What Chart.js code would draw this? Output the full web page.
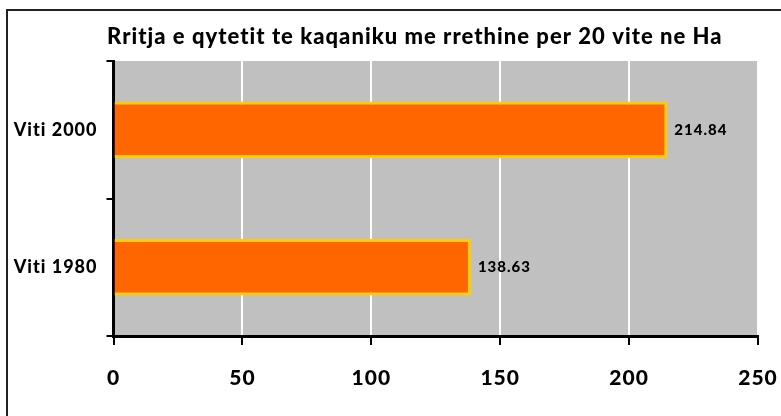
<!DOCTYPE html>
<html>
<head>
<meta charset="utf-8">
<script src="https://cdn.jsdelivr.net/npm/chart.js@4.4.0/dist/chart.umd.min.js"></script>
<style>
  html, body { margin: 0; padding: 0; background: #fff; }
  #wrap { position: relative; width: 781px; height: 416px; overflow: hidden; }
  #frame { position: absolute; left: 6px; top: 9px; width: 800px; height: 420px;
           border-left: 2px solid #222; border-top: 2px solid #222; box-sizing: border-box; }
  canvas { position: absolute; left: 0; top: 0; }
</style>
</head>
<body>
<div id="wrap">
  <div id="frame"></div>
  <canvas id="c" width="781" height="416"></canvas>
</div>
<script>
const titleText = "Rritja e qytetit te kaqaniku me rrethine per 20 vite ne Ha";
const categories = ["Viti 2000", "Viti 1980"];
const values = [214.84, 138.63];
const xTicks = [0, 50, 100, 150, 200, 250];

const FONT = "Lato, 'Open Sans', sans-serif";

const spacingPlugin = {
  id: 'spacing',
  beforeDraw(chart) {
    chart.ctx.letterSpacing = "1px";
  }
};

const titlePlugin = {
  id: 'customTitle',
  afterDraw(chart) {
    const ctx = chart.ctx;
    ctx.save();
    ctx.font = "900 22px " + FONT;
    ctx.letterSpacing = "0px";
    const w = ctx.measureText(titleText).width;
    const sp = Math.max(0, (615 - w) / (titleText.length - 1));
    ctx.letterSpacing = sp.toFixed(2) + "px";
    ctx.fillStyle = "#000";
    ctx.textAlign = "left";
    ctx.textBaseline = "middle";
    ctx.fillText(titleText, 107, 37);
    ctx.restore();
  }
};

const valueLabels = {
  id: 'valueLabels',
  afterDatasetsDraw(chart) {
    const ctx = chart.ctx;
    const meta = chart.getDatasetMeta(0);
    ctx.save();
    ctx.font = "900 15px " + FONT;
    ctx.letterSpacing = "1px";
    ctx.fillStyle = "#000";
    ctx.textAlign = "left";
    ctx.textBaseline = "middle";
    meta.data.forEach((bar, i) => {
      ctx.fillText(values[i].toFixed(2), bar.x + 7, bar.y);
    });
    ctx.restore();
  }
};

const bgPlugin = {
  id: 'plotBg',
  beforeDraw(chart) {
    const a = chart.chartArea;
    const ctx = chart.ctx;
    ctx.save();
    ctx.fillStyle = "#C0C0C0";
    ctx.fillRect(a.left, a.top, a.right - a.left, a.bottom - a.top);
    ctx.restore();
  }
};

new Chart(document.getElementById('c'), {
  type: 'bar',
  data: {
    labels: categories,
    datasets: [{
      data: values,
      backgroundColor: "#FF6600",
      borderColor: "#FFCC00",
      borderWidth: 3,
      barPercentage: 0.41,
      categoryPercentage: 1.0
    }]
  },
  options: {
    indexAxis: 'y',
    responsive: false,
    animation: false,
    devicePixelRatio: 1,
    layout: { padding: { top: 61, right: 23, left: 0, bottom: 0 } },
    plugins: {
      legend: { display: false },
      title: { display: false },
      tooltip: { enabled: false }
    },
    scales: {
      x: {
        min: 0, max: 250,
        afterBuildTicks(scale) { scale.ticks = xTicks.map(v => ({ value: v })); },
        afterFit(scale) { scale.height = 80; scale.paddingLeft = 0; scale.paddingRight = 0; },
        grid: { color: "#FFFFFF", lineWidth: 2, tickColor: "#000", tickLength: 9, drawTicks: true },
        border: { display: true, color: "#000", width: 3 },
        ticks: { color: "#000", font: { family: FONT, size: 21, weight: '900' }, padding: 21, maxRotation: 0 }
      },
      y: {
        afterFit(scale) { scale.width = 113.5; scale.paddingTop = 0; scale.paddingBottom = 0; },
        grid: { display: true, drawOnChartArea: false, color: "#000", lineWidth: 2, tickLength: 7, offset: true },
        border: { display: true, color: "#000", width: 3 },
        ticks: { color: "#000", font: { family: FONT, size: 18, weight: '900' }, padding: 9 }
      }
    }
  },
  plugins: [spacingPlugin, bgPlugin, valueLabels, titlePlugin]
});
</script>
</body>
</html>
